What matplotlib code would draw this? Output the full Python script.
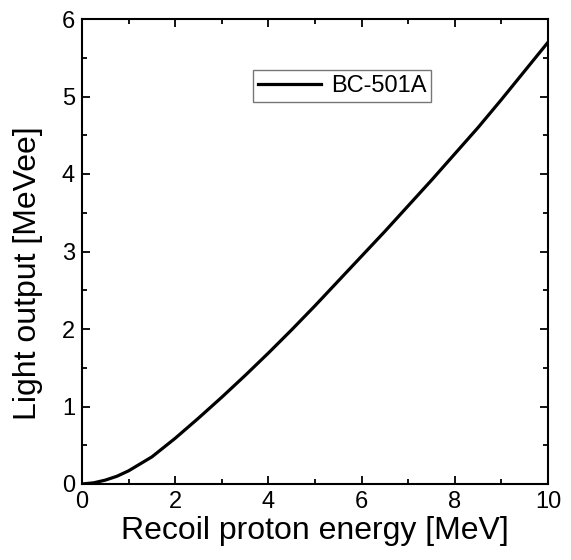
import matplotlib
matplotlib.use('Agg')
import matplotlib.pyplot as plt
from matplotlib.ticker import MultipleLocator

plt.rcParams['font.family'] = ['Liberation Sans', 'DejaVu Sans']

energy = [0, 0.25, 0.5, 0.75, 1.0, 1.5, 2.0, 2.5, 3.0, 3.5, 4.0, 4.5, 5.0,
          5.5, 6.0, 6.5, 7.0, 7.5, 8.0, 8.5, 9.0, 9.5, 10.0]
light = [0, 0.015, 0.05, 0.1, 0.17, 0.35, 0.59, 0.85, 1.12, 1.4, 1.69, 1.99, 2.3,
         2.62, 2.94, 3.26, 3.59, 3.92, 4.26, 4.6, 4.96, 5.33, 5.7]

fig = plt.figure(figsize=(5.71, 5.6), dpi=100)
ax = fig.add_axes([82/571, 1 - 484/560, 466/571, 465/560])

ax.plot(energy, light, '-', color='black', lw=2.3, label='BC-501A')

ax.set_xlim(0, 10)
ax.set_ylim(0, 6)
ax.xaxis.set_major_locator(MultipleLocator(2))
ax.xaxis.set_minor_locator(MultipleLocator(1))
ax.yaxis.set_major_locator(MultipleLocator(1))
ax.yaxis.set_minor_locator(MultipleLocator(0.5))
ax.tick_params(which='both', direction='in', top=True, right=True, width=1.3,
               labelsize=17, pad=5)
ax.tick_params(which='major', length=6)
ax.tick_params(which='minor', length=3.5)
for s in ax.spines.values():
    s.set_linewidth(1.5)

ax.set_xlabel('Recoil proton energy [MeV]', fontsize=23, labelpad=2)
ax.set_ylabel('Light output [MeVee]', fontsize=23)
ax.yaxis.set_label_coords(-0.084, 0.454)

leg = ax.legend(loc='upper left', bbox_to_anchor=(0.367, 0.89), fontsize=17,
                frameon=True, fancybox=False, edgecolor='#555555',
                handlelength=2.7, borderpad=0.2, handletextpad=0.4,
                borderaxespad=0)
leg.get_frame().set_linewidth(1.0)

fig.savefig('out.png', dpi=100)
